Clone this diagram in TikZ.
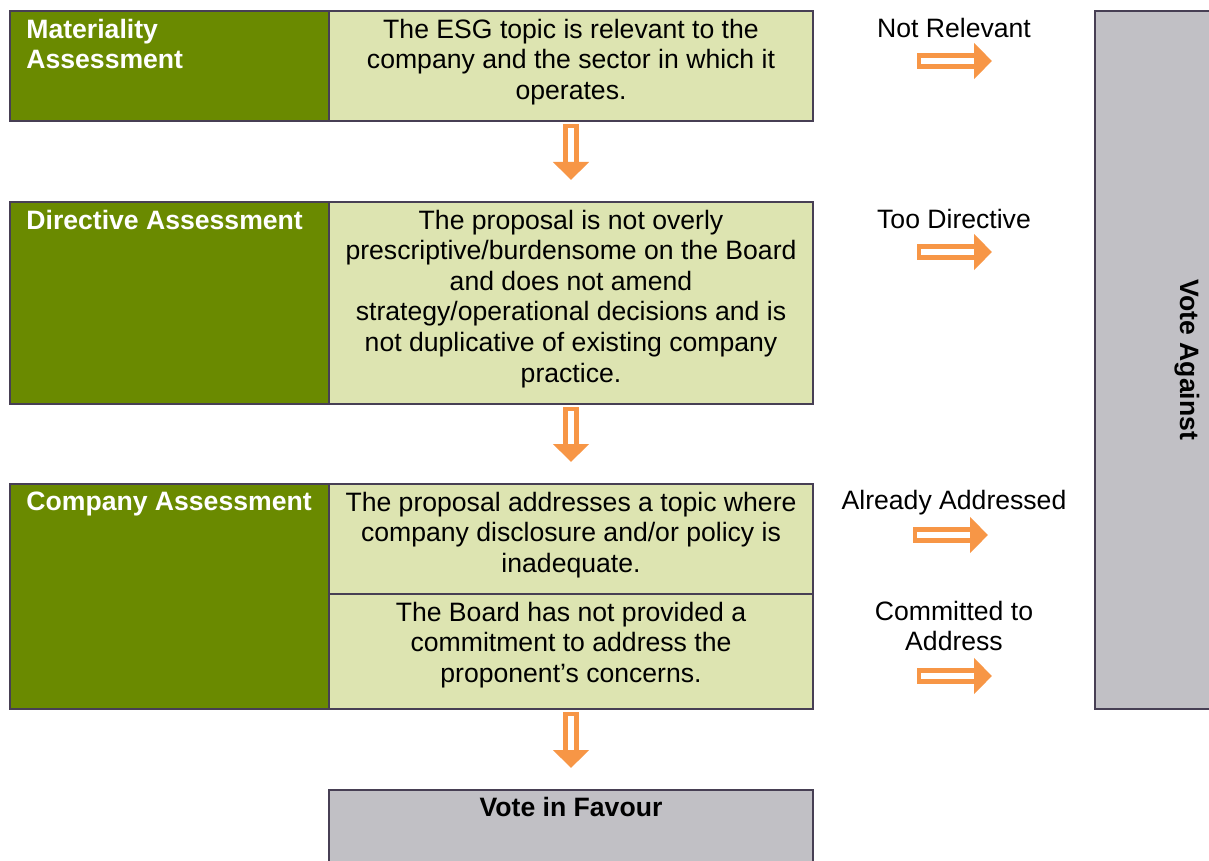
\documentclass[tikz,border=0pt]{standalone}
\usepackage{fontspec}
\setmainfont{Liberation Sans}
\usepackage{xcolor}
\usetikzlibrary{arrows.meta, calc, positioning}

\definecolor{leafgreen}{HTML}{6A8A00}
\definecolor{palegreen}{HTML}{DDE4B1}
\definecolor{stonegrey}{HTML}{C1C0C5}
\definecolor{framecol}{HTML}{473F54}
\definecolor{flowarrow}{HTML}{F79646}

\tikzset{
    stagebox/.style={draw=framecol, fill=leafgreen, line width=1pt, inner sep=0pt, outer sep=0pt, anchor=north west, minimum width=159.5pt},
    testbox/.style={draw=framecol, fill=palegreen, line width=1pt, inner sep=0pt, outer sep=0pt, anchor=north west, minimum width=242pt},
    votebox/.style={draw=framecol, fill=stonegrey, line width=1pt, inner sep=0pt, outer sep=0pt, anchor=north west},
    stagetext/.style={text=white, font=\bfseries\fontsize{13.3}{15.3}\selectfont, align=left, inner sep=0pt},
    testtext/.style={font=\fontsize{13.3}{15.3}\selectfont, align=center, inner sep=0pt},
    outtext/.style={font=\fontsize{13.3}{15.3}\selectfont, align=center, inner sep=0pt},
    hollow/.style={draw=flowarrow, line width=2.5pt, double=white, double distance=3pt, {Rectangle[length=2.2pt, width=8pt]}-{Triangle[length=9pt, width=17.5pt]}}
}

\begin{document}
\begin{tikzpicture}[x=0.5pt, y=-0.5pt]
    \useasboundingbox (0,0) rectangle (1209,861);
    \clip (0,0) rectangle (1209,861);

    % materiality
    \node[stagebox, minimum height=55pt] (matstage) at (10,11) {};
    \node[testbox, minimum height=55pt] (mattest) at (329,11) {};
    \node[stagetext, below right=3.75pt and 8pt of matstage.north west] (matlabel) {Materiality\\Assessment};
    \node[testtext, below=3.75pt of mattest.north] (matcheck) {The ESG topic is relevant to the\\company and the sector in which it\\operates.};

    % directive
    \node[stagebox, minimum height=101pt] (dirstage) at (10,202) {};
    \node[testbox, minimum height=101pt] (dirtest) at (329,202) {};
    \node[stagetext, below right=3.75pt and 8pt of dirstage.north west] (dirlabel) {Directive Assessment};
    \node[testtext, below=3.75pt of dirtest.north] (dircheck) {The proposal is not overly\\prescriptive/burdensome on the Board\\and does not amend\\strategy/operational decisions and is\\not duplicative of existing company\\practice.};

    % company
    \node[stagebox, minimum height=112.5pt] (comstage) at (10,484) {};
    \node[testbox, minimum height=55pt] (comtest) at (329,484) {};
    \node[testbox, minimum height=57.5pt] (boardtest) at (329,594) {};
    \node[stagetext, below right=3.75pt and 8pt of comstage.north west] (comlabel) {Company Assessment};
    \node[testtext, below=3.75pt of comtest.north] (comcheck) {The proposal addresses a topic where\\company disclosure and/or policy is\\inadequate.};
    \node[testtext, below=3.75pt of boardtest.north] (boardcheck) {The Board has not provided a\\commitment to address the\\proponent’s concerns.};

    % outcomes
    \node[votebox, minimum width=242pt, minimum height=50pt] (favour) at (329,790) {};
    \node[testtext, font=\bfseries\fontsize{13.3}{15.3}\selectfont, below=3.25pt of favour.north] (favourlabel) {Vote in Favour};
    \node[votebox, minimum width=92pt, minimum height=349pt] (against) at (1095,11) {};
    \node[outtext, font=\bfseries\fontsize{13.3}{15.3}\selectfont, rotate=-90] (againstlabel) at (against.center) {Vote Against};

    \node[outtext] (notrel) at (954,28) {Not Relevant};
    \node[outtext] (toodir) at (954,219) {Too Directive};
    \node[outtext] (already) at (954,503) {Already Addressed};
    \node[outtext] (committed) at (954,626) {Committed to\\Address};

    \coordinate (notrelA) at (917,61);
    \coordinate (notrelB) at (992,61);
    \coordinate (toodirA) at (917,252);
    \coordinate (toodirB) at (992,252);
    \coordinate (alreadyA) at (913,535);
    \coordinate (alreadyB) at (988,535);
    \coordinate (committedA) at (917,676);
    \coordinate (committedB) at (992,676);

    \draw[hollow, shorten <=1.5pt, shorten >=11pt] (mattest.south) -- (dirtest.north);
    \draw[hollow, shorten <=1.5pt, shorten >=11pt] (dirtest.south) -- (comtest.north);
    \draw[hollow, shorten <=1.5pt, shorten >=11pt] (boardtest.south) -- (favour.north);
    \draw[hollow] (notrelA) -- (notrelB);
    \draw[hollow] (toodirA) -- (toodirB);
    \draw[hollow] (alreadyA) -- (alreadyB);
    \draw[hollow] (committedA) -- (committedB);
\end{tikzpicture}
\end{document}
